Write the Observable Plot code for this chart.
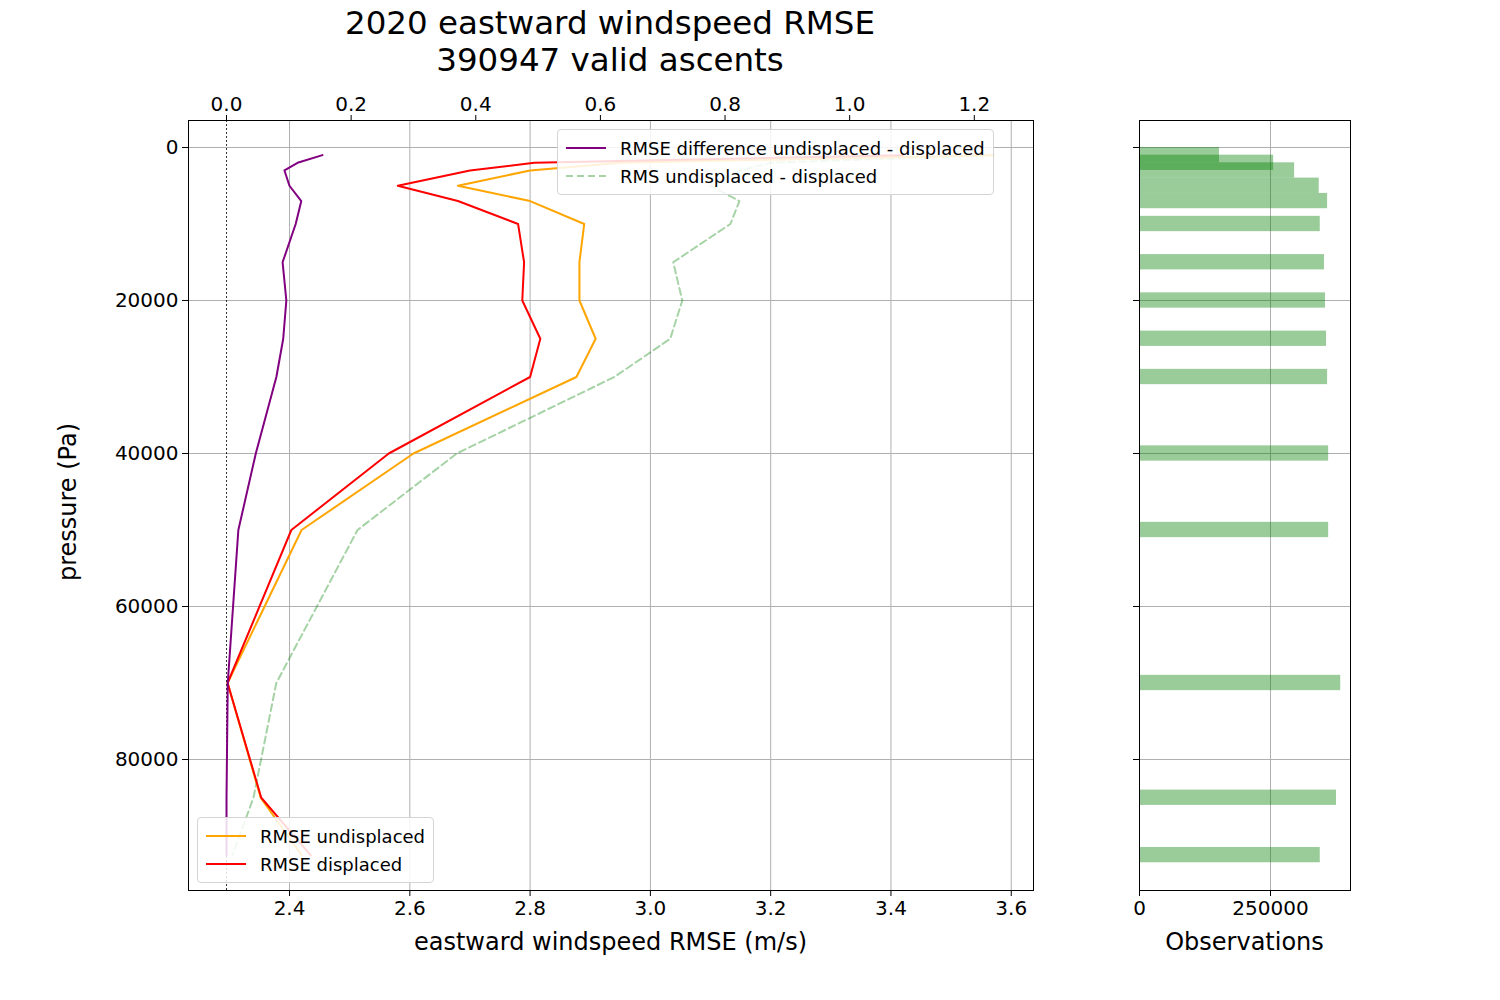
<!DOCTYPE html>
<html><head><meta charset="utf-8">
<script src="https://cdn.jsdelivr.net/npm/d3@7"></script>
<script src="https://cdn.jsdelivr.net/npm/@observablehq/plot@0.6"></script>
<style>
body{margin:0;background:#fff;font-family:"DejaVu Sans",sans-serif;}
#wrap{position:relative;width:1500px;height:1000px;}
.abs{position:absolute;}
.title{left:0;width:1220px;text-align:center;font-size:32.5px;line-height:37px;top:5px;}
.leg{border:1px solid #d5d5d5;border-radius:4px;background:rgba(255,255,255,0.85);font-size:18px;padding:4px 8px;}
.leg div{height:28px;display:flex;align-items:center;}
.leg svg{margin-right:14px;}
</style></head>
<body><div id="wrap">
<div class="abs title">2020 eastward windspeed RMSE<br>390947 valid ascents</div>
</div>
<script>
const levels = [1000,2000,3000,5000,7000,10000,15000,20000,25000,30000,40000,50000,70000,85000,92500];
const rmseDiff = [0.154,0.114,0.093,0.101,0.120,0.111,0.090,0.096,0.091,0.080,0.047,0.019,0.002,0.000,0.000];
const rmseUndisp = [3.57,2.95,2.80,2.68,2.80,2.89,2.882,2.882,2.909,2.877,2.606,2.42,2.297,2.352,2.42];
const rmseDisp = [3.42,2.807,2.70,2.58,2.68,2.78,2.79,2.787,2.817,2.80,2.565,2.403,2.297,2.353,2.435];
const rmsUD = [3.57,3.2,3.15,3.10,3.148,3.133,3.038,3.053,3.033,2.94,2.678,2.513,2.378,2.34,2.305];
const counts = [152700,256000,296000,343000,359000,345000,353000,355000,357000,359000,361000,361000,384000,376000,345000];
const bottomTicks = [2.4,2.6,2.8,3.0,3.2,3.4,3.6];
const topTicks = [0,0.2,0.4,0.6,0.8,1.0,1.2];
const yTicks = [0,20000,40000,60000,80000];
const histTicks = [0,250000];

const rows = levels.map((p,i)=>({p, d:rmseDiff[i], u:rmseUndisp[i], s:rmseDisp[i], r:rmsUD[i], c:counts[i]}));
const W=1040,H=960,mt=120,mb=70,ml=188,mr=7;
const yDom=[97124,-3529];
const font="DejaVu Sans";
const wrap=document.getElementById("wrap");
function place(el,left){el.style.position="absolute";el.style.left=left+"px";el.style.top="0px";wrap.appendChild(el);return el;}

const mainPlot = Plot.plot({
  width:W,height:H,marginTop:mt,marginBottom:mb,marginLeft:ml,marginRight:mr,
  style:{fontFamily:font,fontSize:"20px",background:"transparent",color:"#000"},
  x:{domain:[2.232,3.637],ticks:bottomTicks,tickFormat:d3.format(".1f"),label:null},
  y:{domain:yDom,ticks:yTicks,tickFormat:d=>String(d),label:null},
  marks:[
    Plot.gridX(bottomTicks,{stroke:"#b0b0b0",strokeOpacity:1}),
    Plot.gridY(yTicks,{stroke:"#b0b0b0",strokeOpacity:1}),
    Plot.line(rows,{x:"r",y:"p",stroke:"green",strokeOpacity:0.35,strokeWidth:2,strokeDasharray:"7,4"}),
    Plot.line(rows,{x:"u",y:"p",stroke:"orange",strokeWidth:2}),
    Plot.line(rows,{x:"s",y:"p",stroke:"red",strokeWidth:2}),
    Plot.axisX({ticks:bottomTicks,tickFormat:d3.format(".1f"),tickSize:6,tickPadding:4,fontSize:20,label:null}),
    Plot.axisY({ticks:yTicks,tickFormat:d=>String(d),tickSize:6,tickPadding:4,fontSize:20,label:null}),
    Plot.frame({stroke:"#000"})
  ]
});
place(mainPlot,0);

const topPlot = Plot.plot({
  width:W,height:H,marginTop:mt,marginBottom:mb,marginLeft:ml,marginRight:mr,
  style:{fontFamily:font,fontSize:"20px",background:"transparent",color:"#000"},
  x:{domain:[-0.061,1.295],axis:null},
  y:{domain:yDom,axis:null},
  marks:[
    Plot.ruleX([0],{stroke:"#000",strokeWidth:0.8,strokeDasharray:"2,2"}),
    Plot.line(rows,{x:"d",y:"p",stroke:"purple",strokeWidth:2}),
    Plot.axisX({anchor:"top",ticks:topTicks,tickFormat:d3.format(".1f"),tickSize:6,tickPadding:4,fontSize:20,label:null})
  ]
});
place(topPlot,0);

const hist = Plot.plot({
  width:300,height:H,marginTop:mt,marginBottom:mb,marginLeft:79,marginRight:10,
  style:{fontFamily:font,fontSize:"20px",background:"transparent",color:"#000"},
  x:{domain:[0,402700],label:null},
  y:{domain:yDom,label:null},
  marks:[
    Plot.gridX(histTicks,{stroke:"#b0b0b0",strokeOpacity:1}),
    Plot.gridY(yTicks,{stroke:"#b0b0b0",strokeOpacity:1}),
    Plot.rectX(rows,{x1:0,x2:"c",y1:d=>d.p-1000,y2:d=>d.p+1000,fill:"green",fillOpacity:0.4,inset:0}),
    Plot.axisX({ticks:histTicks,tickFormat:d=>String(d),tickSize:6,tickPadding:4,fontSize:20,label:null}),
    Plot.axisY({ticks:yTicks,tickFormat:()=>"",tickSize:6,label:null}),
    Plot.frame({stroke:"#000"})
  ]
});
place(hist,1060);

function addText(txt,css){const d=document.createElement("div");d.className="abs";d.textContent=txt;Object.assign(d.style,css);wrap.appendChild(d);}
addText("eastward windspeed RMSE (m/s)",{left:"188px",width:"845px",textAlign:"center",top:"928px",fontSize:"24px"});
addText("Observations",{left:"1139px",width:"211px",textAlign:"center",top:"928px",fontSize:"24px"});
addText("pressure (Pa)",{left:"-32px",top:"488px",width:"200px",textAlign:"center",fontSize:"24px",transform:"rotate(-90deg)"});

function legend(items,css){
  const d=document.createElement("div");d.className="abs leg";Object.assign(d.style,css);
  items.forEach(([lab,col,op,dash])=>{
    const r=document.createElement("div");
    r.innerHTML=`<svg width="40" height="10"><line x1="0" y1="5" x2="40" y2="5" stroke="${col}" stroke-opacity="${op}" stroke-width="2" ${dash?'stroke-dasharray="7,4"':''}/></svg><span>${lab}</span>`;
    d.appendChild(r);
  });
  wrap.appendChild(d);
}
legend([["RMSE difference undisplaced - displaced","purple",1,false],["RMS undisplaced - displaced","green",0.35,true]],{left:"557px",top:"129px"});
legend([["RMSE undisplaced","orange",1,false],["RMSE displaced","red",1,false]],{left:"197px",top:"817px"});
</script>
</body></html>
